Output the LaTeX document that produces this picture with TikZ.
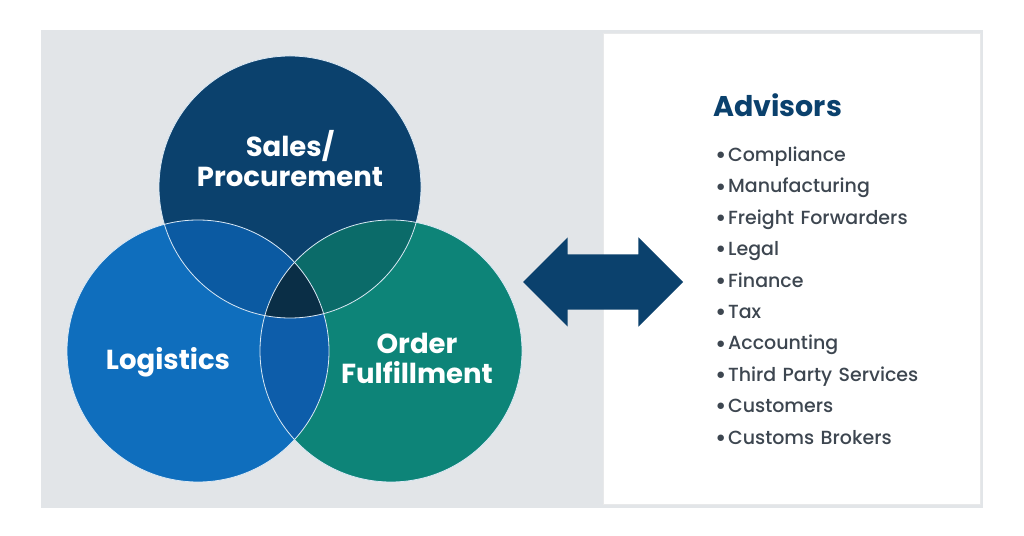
\documentclass[tikz,border=0pt]{standalone}
\usepackage{fontspec}
\usepackage{graphicx}
\setmainfont{Poppins}
\IfFontExistsTF{Poppins Medium}
  {\newfontfamily\itemfont{Poppins Medium}}
  {\newfontfamily\itemfont{Poppins}}
\usetikzlibrary{positioning}
\usetikzlibrary{shapes.arrows}

\definecolor{vnavy}{HTML}{0B416D}
\definecolor{vblue}{HTML}{0F6EBD}
\definecolor{vgreen}{HTML}{0D8478}
\definecolor{vnavyblue}{HTML}{0B5AA2}
\definecolor{vnavygreen}{HTML}{0B6B69}
\definecolor{vbluegreen}{HTML}{0D5DAA}
\definecolor{vcore}{HTML}{0A2E46}
\definecolor{panelgray}{HTML}{E2E5E8}
\definecolor{panelline}{HTML}{E8E9EA}
\definecolor{itemgray}{HTML}{3D4650}

\newcommand{\dotitem}{\raisebox{-2.2pt}{\scalebox{1.3}{\textbullet}}\kern1.5pt}

\begin{document}
\begin{tikzpicture}[
    x=1pt,y=1pt,
    lbl/.style={text=white,font=\bfseries\fontsize{27.5}{30}\selectfont,align=center},
    title/.style={text=vnavy,font=\bfseries\fontsize{28.5}{30}\selectfont,inner sep=0pt},
    item/.style={text=itemgray,font=\itemfont\fontsize{19}{22}\selectfont,text width=230pt,align=left,
      text height=14pt,text depth=5pt,minimum height=31pt,inner sep=0pt},
    arr/.style={double arrow,fill=vnavy,minimum height=160pt,minimum width=89pt,double arrow head extend=17pt,
      text height=55pt,text depth=0pt,inner sep=0pt},
    rim/.style={draw=white!85!vblue,line width=0.8pt}
    ]
    \useasboundingbox (0,0) rectangle (1024,535);
    % panels
    \fill[panelgray] (41,27) rectangle (983,505);
    \fill[white] (603,31) rectangle (980,501);
    \draw[panelline,line width=1pt] (603,31) rectangle (980,501);
    % circle centres
    \coordinate (cs) at (290,348);
    \coordinate (cl) at (198,184);
    \coordinate (co) at (391,184);
    \fill[vnavy] (cs) circle[radius=131];
    \fill[vblue] (cl) circle[radius=131];
    \fill[vgreen] (co) circle[radius=131];
    \begin{scope}
      \clip (cs) circle[radius=131];
      \fill[vnavyblue] (cl) circle[radius=131];
      \fill[vnavygreen] (co) circle[radius=131];
    \end{scope}
    \begin{scope}
      \clip (cl) circle[radius=131];
      \fill[vbluegreen] (co) circle[radius=131];
      \clip (co) circle[radius=131];
      \fill[vcore] (cs) circle[radius=131];
    \end{scope}
    \draw[rim] (cs) circle[radius=131];
    \draw[rim] (cl) circle[radius=131];
    \draw[rim] (co) circle[radius=131];
    \node (sales) [lbl] at (290,376) {Sales/\\Procurement};
    \node (logi) [lbl] at (168,173) {Logistics};
    \node (order) [lbl] at (417,177) {Order\\Fulfillment};
    \node (link) [arr] at (603,253) {};
    % advisors list
    \node (adv) [title,anchor=west] at (713,430) {Advisors};
    \node (comp) [item,anchor=west] at (715,378) {\dotitem Compliance};
    \node (manu) [item,below=0pt of comp] {\dotitem Manufacturing};
    \node (frei) [item,below=0pt of manu] {\dotitem Freight Forwarders};
    \node (legal) [item,below=0pt of frei] {\dotitem Legal};
    \node (fin) [item,below=0pt of legal] {\dotitem Finance};
    \node (tax) [item,below=0pt of fin] {\dotitem Tax};
    \node (acc) [item,below=0pt of tax] {\dotitem Accounting};
    \node (third) [item,below=0pt of acc] {\dotitem Third Party Services};
    \node (cust) [item,below=0pt of third] {\dotitem Customers};
    \node (brok) [item,below=0pt of cust] {\dotitem Customs Brokers};
\end{tikzpicture}
\end{document}
